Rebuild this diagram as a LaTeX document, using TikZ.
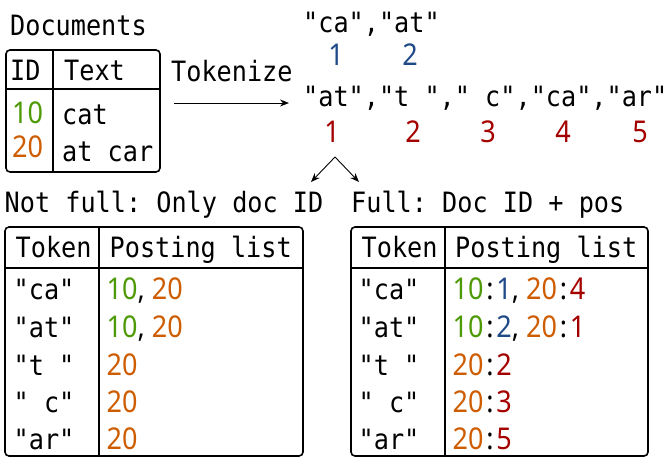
\documentclass[tikz,border=0pt]{standalone}
\usepackage{fontspec}
\setmonofont{DejaVu Sans Mono}[FakeStretch=0.9]
\newfontfamily\digitsfont{Noto Sans}[FakeStretch=0.9]
\usetikzlibrary{arrows.meta}

\definecolor{docgreen}{HTML}{4E9A06}
\definecolor{docorange}{HTML}{CE5C00}
\definecolor{posblue}{HTML}{204A87}
\definecolor{posred}{HTML}{A40000}

\newcommand\monotext{\ttfamily\fontsize{28}{34}\selectfont}
\newcommand\digittext{\digitsfont\fontsize{30}{36}\selectfont}
\newcommand\dA[1]{\textcolor{docgreen}{#1}}
\newcommand\dB[1]{\textcolor{docorange}{#1}}
\newcommand\pA[1]{\textcolor{posblue}{#1}}
\newcommand\pB[1]{\textcolor{posred}{#1}}
\newcommand\cln{\kern2.8pt:\kern2.8pt}

\begin{document}
\begin{tikzpicture}[x=1pt, y=-1pt,
  txt/.style={anchor=base west, inner sep=0pt, font=\monotext},
  num/.style={anchor=base west, inner sep=0pt, font=\digittext},
  posnum/.style={anchor=base, inner sep=0pt, font=\digittext},
  frame/.style={draw, line width=1.6pt, rounded corners=4pt},
  rule/.style={line width=1.6pt},
  flow/.style={-{Stealth[length=9pt,width=7pt]}, line width=0.9pt}]
\useasboundingbox (0,0) rectangle (669,457);

% documents table
\node[txt] (doctitle) at (10,36) {Documents};
\draw[frame] (6,50) rectangle (160,172);
\draw[rule] (6,89) -- (160,89);
\draw[rule] (53,50) -- (53,172);
\node[txt] (idhead) at (10,81) {ID};
\node[txt] (texthead) at (64,81) {Text};
\node[num] (id10) at (12,124) {\dA{10}};
\node[num] (id20) at (12,158) {\dB{20}};
\node[txt] (text10) at (62,125) {cat};
\node[txt] (text20) at (62,162) {at car};

% tokenize step
\node[txt] (toklabel) at (171,82) {Tokenize};
\coordinate (tokfrom) at (174,103);
\coordinate (tokto) at (289,103);
\draw[flow] (tokfrom) -- (tokto);

% tokens of document 10
\node[txt] (tok10) at (303,33) {"ca","at"};
\node[posnum] (p10a) at (336,66) {\pA{1}};
\node[posnum] (p10b) at (410,66) {\pA{2}};

% tokens of document 20
\node[txt] (tok20) at (303,107) {"at","t "," c","ca","ar"};
\node[posnum] (p20a) at (332,143) {\pB{1}};
\node[posnum] (p20b) at (413,143) {\pB{2}};
\node[posnum] (p20c) at (488,143) {\pB{3}};
\node[posnum] (p20d) at (563,143) {\pB{4}};
\node[posnum] (p20e) at (640,143) {\pB{5}};

% branch to the two index variants
\coordinate (fork) at (335,157);
\coordinate (leftend) at (311,182);
\coordinate (rightend) at (359,182);
\draw[flow] (fork) -- (leftend);
\draw[flow] (fork) -- (rightend);

\node[txt] (lefttitle) at (4.5,213) {Not full: Only doc ID};
\node[txt] (righttitle) at (351,213) {Full: Doc ID + pos};

% index without positions
\draw[frame] (5,227) rectangle (303,456);
\draw[rule] (5,268) -- (303,268);
\draw[rule] (99,227) -- (99,456);
\node[txt] (ltokhead) at (15.5,257) {Token};
\node[txt] (lposthead) at (109.5,257) {Posting list};
\node[txt] (lt1) at (13.5,299) {"ca"};
\node[txt] (lt2) at (13.5,337) {"at"};
\node[txt] (lt3) at (13.5,375) {"t "};
\node[txt] (lt4) at (13.5,412) {" c"};
\node[txt] (lt5) at (13.5,449) {"ar"};
\node[num] (lp1) at (106.5,299) {\dA{10}, \dB{20}};
\node[num] (lp2) at (106.5,337) {\dA{10}, \dB{20}};
\node[num] (lp3) at (106.5,375) {\dB{20}};
\node[num] (lp4) at (106.5,412) {\dB{20}};
\node[num] (lp5) at (106.5,449) {\dB{20}};

% index with positions
\draw[frame] (351,227) rectangle (648,456);
\draw[rule] (351,268) -- (648,268);
\draw[rule] (445,227) -- (445,456);
\node[txt] (rtokhead) at (361.5,257) {Token};
\node[txt] (rposthead) at (455,257) {Posting list};
\node[txt] (rt1) at (358.5,299) {"ca"};
\node[txt] (rt2) at (358.5,337) {"at"};
\node[txt] (rt3) at (358.5,375) {"t "};
\node[txt] (rt4) at (358.5,412) {" c"};
\node[txt] (rt5) at (358.5,449) {"ar"};
\node[num] (rp1) at (452.5,299) {\dA{10}\cln\pA{1}, \dB{20}\cln\pB{4}};
\node[num] (rp2) at (452.5,337) {\dA{10}\cln\pA{2}, \dB{20}\cln\pB{1}};
\node[num] (rp3) at (452.5,375) {\dB{20}\cln\pB{2}};
\node[num] (rp4) at (452.5,412) {\dB{20}\cln\pB{3}};
\node[num] (rp5) at (452.5,449) {\dB{20}\cln\pB{5}};
\end{tikzpicture}
\end{document}
